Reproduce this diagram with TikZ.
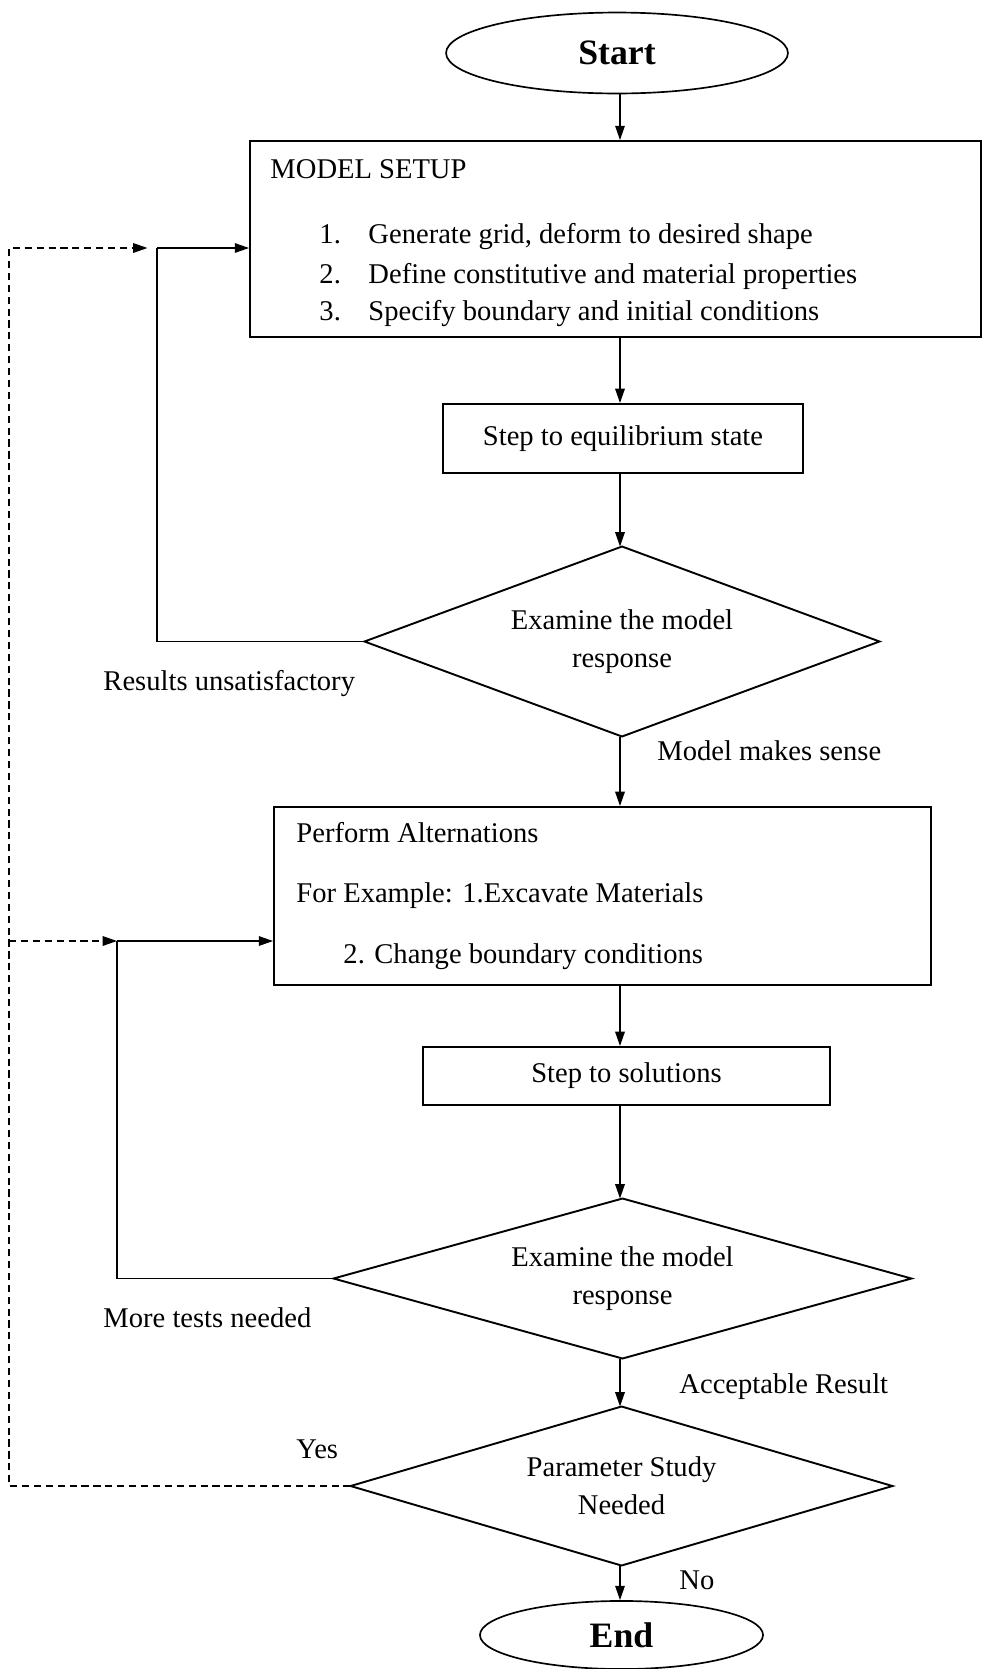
\documentclass[tikz,border=0pt]{standalone}
\usepackage{fontspec}
\setmainfont{Liberation Serif}
\usetikzlibrary{shapes.geometric,arrows.meta}

\begin{document}
\begin{tikzpicture}[x=0.42pt,y=-0.42pt,
    font=\fontsize{12pt}{14pt}\selectfont,
    box/.style={draw,line width=0.8pt,inner sep=0pt},
    term/.style={draw,ellipse,line width=0.7pt,inner sep=0pt,font=\fontsize{15pt}{18pt}\selectfont\bfseries},
    test/.style={inner sep=0pt,align=center},
    txt/.style={anchor=base west,inner sep=0pt},
    link/.style={line width=0.6pt},
    flow/.style={link,-{Triangle[length=6pt,width=4pt]}},
    back/.style={flow,dash pattern=on 3pt off 2pt}]
  \useasboundingbox (0,0) rectangle (982,1669);
  \coordinate (axis) at (620,0);
  % shapes
  \node[term,minimum width=143.6pt,minimum height=34pt] (start) at (617,53) {Start};
  \node[box,minimum width=307pt,minimum height=82.3pt] (setup) at (615.5,239) {};
  \node[box,minimum width=151.2pt,minimum height=29pt] (equil) at (623,438.5) {Step to equilibrium state};
  \node[test,minimum width=215.9pt,minimum height=79.4pt] (d1) at (622,641.5) {Examine the model\\[2pt]response};
  \node[box,minimum width=275.9pt,minimum height=74.8pt] (alt) at (602.5,896) {};
  \node[box,minimum width=170.9pt,minimum height=24.4pt] (sol) at (626.5,1076) {Step to solutions};
  \node[test,minimum width=242.3pt,minimum height=66.8pt] (d2) at (622.5,1278.5) {Examine the model\\[2pt]response};
  \node[test,minimum width=227.2pt,minimum height=66.4pt] (d3) at (621.5,1486) {Parameter Study\\[2pt]Needed};
  \node[term,minimum width=118.9pt,minimum height=28.6pt] (end) at (621.5,1635) {End};
  \foreach \d in {d1,d2,d3}
    \draw[line width=0.8pt,line join=miter] (\d.north) -- (\d.east) -- (\d.south) -- (\d.west) -- cycle;
  % texts in the boxes
  \node[txt] (t0) at (270,178) {MODEL SETUP};
  \foreach \n/\y/\s in {1/243/{Generate grid, deform to desired shape},
      2/283/{Define constitutive and material properties},
      3/320/{Specify boundary and initial conditions}}{
    \node[txt] (n\n) at (319,\y) {\n.};
    \node[txt] (t\n) at (368,\y) {\s};
  }
  \node[txt] (a0) at (296,842) {Perform Alternations};
  \node[txt] (a1) at (296,902) {For Example: 1.Excavate Materials};
  \node[txt] (a2) at (343,963) {2. Change boundary conditions};
  % labels
  \node[txt] (lres) at (103,690) {Results unsatisfactory};
  \node[txt] (lsense) at (657,760) {Model makes sense};
  \node[txt] (lmore) at (103,1327) {More tests needed};
  \node[txt] (lacc) at (679,1393) {Acceptable Result};
  \node[txt] (lyes) at (296,1458) {Yes};
  \node[txt] (lno) at (679,1589) {No};
  % main flow
  \draw[flow] (start.south -| axis) -- (setup.north -| axis);
  \draw[flow] (setup.south -| axis) -- (equil.north -| axis);
  \draw[flow] (equil.south -| axis) -- (d1.north -| axis);
  \draw[flow] (d1.south -| axis) -- (alt.north -| axis);
  \draw[flow] (alt.south -| axis) -- (sol.north -| axis);
  \draw[flow] (sol.south -| axis) -- (d2.north -| axis);
  \draw[flow] (d2.south -| axis) -- (d3.north -| axis);
  \draw[flow] (d3.south -| axis) -- (end.north -| axis);
  % loops back
  \coordinate (j1) at (157,248);
  \coordinate (j2) at (117,941);
  \coordinate (rail) at (9,0);
  \draw[link] (d1.west) -| (j1);
  \draw[flow] (j1) -- (j1 -| setup.west);
  \draw[link] (d2.west) -| (j2);
  \draw[flow] (j2) -- (j2 -| alt.west);
  \draw[back,shorten >=4pt] (d3.west) -| (rail |- j1) -- (j1);
  \draw[back] (rail |- j2) -- (j2);
\end{tikzpicture}
\end{document}
